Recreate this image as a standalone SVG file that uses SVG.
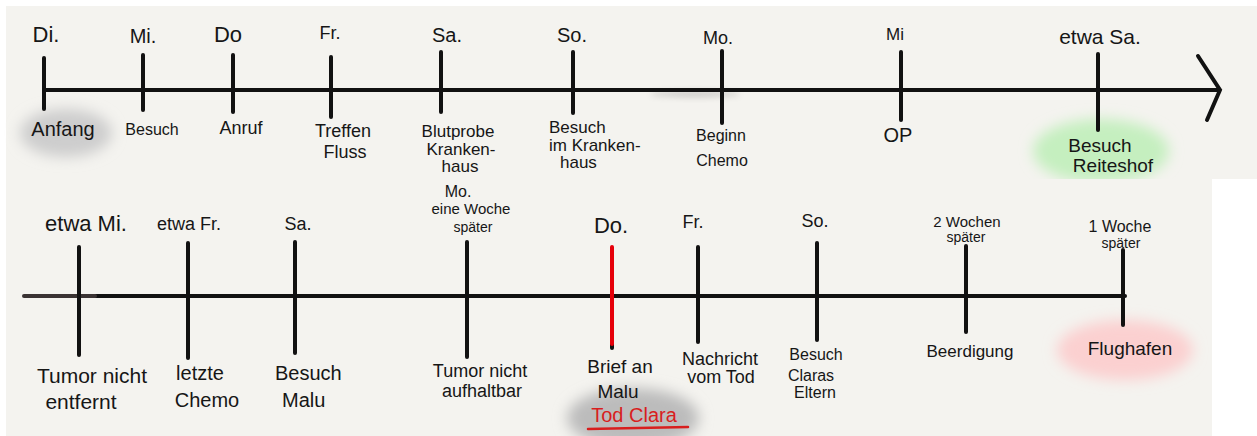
<svg xmlns="http://www.w3.org/2000/svg" width="1257" height="436" viewBox="0 0 1257 436">
  <defs>
    <filter id="soft" x="-30%" y="-40%" width="160%" height="180%">
      <feGaussianBlur stdDeviation="7"/>
    </filter>
    <filter id="smear" x="-30%" y="-100%" width="160%" height="300%">
      <feGaussianBlur stdDeviation="3"/>
    </filter>
    <clipPath id="topPanel"><rect x="6" y="6" width="1251" height="173"/></clipPath>
    <clipPath id="bottomPanel"><rect x="6" y="179" width="1206" height="257"/></clipPath>
  </defs>
  <style>
    .axis { stroke: #111; stroke-width: 4; stroke-linecap: round; fill: none; }
    .tick { stroke: #111; stroke-width: 4; stroke-linecap: round; }
    .tick-red { stroke: #e6000a; stroke-width: 4; stroke-linecap: round; }
    text { font-family: "Liberation Sans", "DejaVu Sans", sans-serif; fill: #161616; text-anchor: middle; }
    .left { text-anchor: start; }
    .red { fill: #d81e1e; }
  </style>

  <!-- paper sheets -->
  <rect x="0" y="0" width="1257" height="436" fill="#ffffff"/>
  <rect x="6" y="6" width="1251" height="173" fill="#f4f3ef"/>
  <rect x="6" y="179" width="1206" height="257" fill="#f4f3ef"/>

  <!-- highlight washes -->
  <g id="highlights">
    <ellipse cx="66" cy="133" rx="46" ry="24" fill="#cdcdcd" filter="url(#soft)"/>
    <g clip-path="url(#topPanel)">
      <ellipse cx="1101" cy="151" rx="68" ry="32" fill="#c5efbf" filter="url(#soft)"/>
    </g>
    <ellipse cx="1125" cy="350" rx="68" ry="30" fill="#fbd0d0" filter="url(#soft)"/>
    <g clip-path="url(#bottomPanel)">
      <ellipse cx="633" cy="418" rx="66" ry="30" fill="#bcbcbc" filter="url(#soft)"/>
    </g>
    <ellipse cx="695" cy="94" rx="45" ry="3" fill="#666" opacity="0.3" filter="url(#smear)"/>
  </g>

  <!-- timeline axes -->
  <g id="connectors">
    <line class="axis" x1="44" y1="90" x2="1219" y2="90"/>
    <path class="axis" d="M1198,56 L1220,90 L1207,120" stroke="#222"/>
    <line class="axis" x1="95" y1="296" x2="1125" y2="296"/>
    <line class="axis" x1="24" y1="296" x2="95" y2="296" style="stroke:#3a3333"/>
  </g>

  <!-- upper timeline -->
  <g id="t-di">
    <line class="tick" x1="44" y1="58" x2="44" y2="109"/>
    <text x="46" y="42" font-size="22">Di.</text>
    <text x="63" y="136" font-size="20">Anfang</text>
  </g>
  <g id="t-mi">
    <line class="tick" x1="143" y1="55" x2="143" y2="110"/>
    <text x="143" y="43" font-size="20">Mi.</text>
    <text x="152" y="135" font-size="16">Besuch</text>
  </g>
  <g id="t-do">
    <line class="tick" x1="233" y1="55" x2="233" y2="112"/>
    <text x="228" y="42" font-size="22">Do</text>
    <text x="241" y="134" font-size="18">Anruf</text>
  </g>
  <g id="t-fr">
    <line class="tick" x1="331" y1="57" x2="331" y2="117"/>
    <text x="330" y="39" font-size="18">Fr.</text>
    <text x="343" y="137" font-size="18">Treffen</text>
    <text x="345" y="158" font-size="18">Fluss</text>
  </g>
  <g id="t-sa">
    <line class="tick" x1="441" y1="52" x2="441" y2="112"/>
    <text x="447" y="42" font-size="20">Sa.</text>
    <text x="458" y="137" font-size="17">Blutprobe</text>
    <text x="461" y="155" font-size="17">Kranken-</text>
    <text x="460" y="172" font-size="17">haus</text>
  </g>
  <g id="t-so">
    <line class="tick" x1="573" y1="52" x2="573" y2="113"/>
    <text x="572" y="42" font-size="20">So.</text>
    <text class="left" x="549" y="133" font-size="17">Besuch</text>
    <text class="left" x="549" y="151" font-size="17">im Kranken-</text>
    <text class="left" x="560" y="168" font-size="17">haus</text>
  </g>
  <g id="t-mo">
    <line class="tick" x1="722" y1="51" x2="722" y2="123"/>
    <text x="718" y="44" font-size="18">Mo.</text>
    <text x="721" y="141" font-size="16">Beginn</text>
    <text x="722" y="166" font-size="16">Chemo</text>
  </g>
  <g id="t-op">
    <line class="tick" x1="901" y1="52" x2="901" y2="120"/>
    <text x="895" y="40" font-size="17">Mi</text>
    <text x="898" y="142" font-size="20">OP</text>
  </g>
  <g id="t-reiteshof">
    <line class="tick" x1="1098" y1="54" x2="1098" y2="130"/>
    <text x="1100" y="44" font-size="21">etwa Sa.</text>
    <text x="1100" y="152" font-size="19">Besuch</text>
    <text x="1113" y="172" font-size="19">Reiteshof</text>
  </g>

  <!-- lower timeline -->
  <g id="b-mi">
    <line class="tick" x1="79" y1="247" x2="79" y2="355"/>
    <text x="86" y="231" font-size="22">etwa Mi.</text>
    <text x="92" y="383" font-size="21">Tumor nicht</text>
    <text x="81" y="409" font-size="21">entfernt</text>
  </g>
  <g id="b-fr">
    <line class="tick" x1="188" y1="243" x2="188" y2="358"/>
    <text x="189" y="230" font-size="18">etwa Fr.</text>
    <text x="200" y="380" font-size="20">letzte</text>
    <text x="207" y="407" font-size="20">Chemo</text>
  </g>
  <g id="b-sa">
    <line class="tick" x1="295" y1="242" x2="295" y2="353"/>
    <text x="298" y="230" font-size="18">Sa.</text>
    <text class="left" x="275" y="380" font-size="20">Besuch</text>
    <text class="left" x="282" y="407" font-size="20">Malu</text>
  </g>
  <g id="b-mo">
    <line class="tick" x1="467" y1="242" x2="467" y2="357"/>
    <text x="458" y="197" font-size="16">Mo.</text>
    <text x="471" y="214" font-size="15">eine Woche</text>
    <text x="473" y="232" font-size="14">später</text>
    <text x="480" y="377" font-size="18">Tumor nicht</text>
    <text x="482" y="397" font-size="18">aufhaltbar</text>
  </g>
  <g id="b-do">
    <line class="tick" x1="612" y1="340" x2="612" y2="348"/>
    <line class="tick-red" x1="612" y1="247" x2="612" y2="344"/>
    <text x="611" y="233" font-size="22">Do.</text>
    <text x="620" y="373" font-size="19">Brief an</text>
    <text x="618" y="398" font-size="19">Malu</text>
    <text class="red" x="634" y="422" font-size="20">Tod Clara</text>
    <line x1="588" y1="429" x2="688" y2="427" stroke="#d81e1e" stroke-width="2.5" stroke-linecap="round"/>
  </g>
  <g id="b-fr2">
    <line class="tick" x1="698" y1="247" x2="698" y2="342"/>
    <text x="693" y="228" font-size="18">Fr.</text>
    <text x="720" y="365" font-size="18">Nachricht</text>
    <text x="721" y="383" font-size="18">vom Tod</text>
  </g>
  <g id="b-so">
    <line class="tick" x1="817" y1="243" x2="817" y2="340"/>
    <text x="815" y="227" font-size="18">So.</text>
    <text x="816" y="360" font-size="16">Besuch</text>
    <text x="811" y="381" font-size="16">Claras</text>
    <text x="815" y="398" font-size="16">Eltern</text>
  </g>
  <g id="b-beerdigung">
    <line class="tick" x1="966" y1="246" x2="966" y2="332"/>
    <text x="967" y="227" font-size="15">2 Wochen</text>
    <text x="966" y="242" font-size="14">später</text>
    <text x="970" y="357" font-size="17">Beerdigung</text>
  </g>
  <g id="b-flughafen">
    <line class="tick" x1="1123" y1="250" x2="1123" y2="325"/>
    <text x="1120" y="232" font-size="16">1 Woche</text>
    <text x="1121" y="248" font-size="14">später</text>
    <text x="1130" y="355" font-size="19">Flughafen</text>
  </g>
</svg>
